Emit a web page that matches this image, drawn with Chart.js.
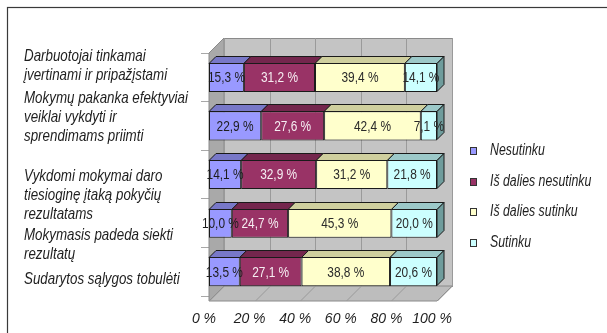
<!DOCTYPE html>
<html>
<head>
<meta charset="utf-8">
<style>
  html, body { margin: 0; padding: 0; background: #fff; overflow: hidden; }
  #wrap { width: 607px; height: 333px; position: relative; }
</style>
<script src="https://cdn.jsdelivr.net/npm/chart.js@4.4.1/dist/chart.umd.min.js"></script>
</head>
<body>
<div id="wrap"><canvas id="c" width="607" height="333"></canvas></div>
<script>
// Survey statements (multi-line category labels)
const categories = [
  ['Darbuotojai tinkamai', 'įvertinami ir pripažįstami'],
  ['Mokymų pakanka efektyviai', 'veiklai vykdyti ir', 'sprendimams priimti'],
  ['Vykdomi mokymai daro', 'tiesioginę įtaką pokyčių', 'rezultatams'],
  ['Mokymasis padeda siekti', 'rezultatų'],
  ['Sudarytos sąlygos tobulėti']
];

// Answer shares, percent
const seriesNames = ['Nesutinku', 'Iš dalies nesutinku', 'Iš dalies sutinku', 'Sutinku'];
const nesutinku         = [15.3, 22.9, 14.1, 10.0, 13.5];
const isDaliesNesutinku = [31.2, 27.6, 32.9, 24.7, 27.1];
const isDaliesSutinku   = [39.4, 42.4, 31.2, 45.3, 38.8];
const sutinku           = [14.1,  7.1, 21.8, 20.0, 20.6];

const xTickValues = [0, 20, 40, 60, 80, 100];

// Styling
const SANS = "'Liberation Sans', Arial, sans-serif";
const frontColors = ['#9999FF', '#993366', '#FFFFCC', '#CCFFFF'];
const topColors   = ['#7878C8', '#74264D', '#CFCF9E', '#9CC9C9'];
const sideColors  = ['#5E5E9C', '#5A1D3B', '#A3A37A', '#6F9C9C'];
const valueColors = ['#1E1E1E', '#F6EEF2', '#2A2A2A', '#2A2A2A'];
// vertical placement of each category text block relative to its row centre
const labelNudge = [-7, -4, 25, 26, 12];
const labelLineStep = 19;

const seriesValues = [nesutinku, isDaliesNesutinku, isDaliesSutinku, sutinku];

const fmt = v => v.toFixed(1).replace('.', ',') + ' %';

// condensed text: regular sans squeezed horizontally
function narrowText(ctx, text, x, y, sx) {
  ctx.save();
  ctx.translate(x, y);
  ctx.scale(sx, 1);
  ctx.fillText(text, 0, 0);
  ctx.restore();
}

// Walls, floor, bar depth faces, value labels, category text, legend and outer frame
const boxes3d = {
  id: 'boxes3d',
  beforeDraw(chart) {
    const ctx = chart.ctx;
    ctx.save();
    ctx.fillStyle = '#fff';
    ctx.fillRect(0, 0, chart.width, chart.height);
    ctx.strokeStyle = '#3a3a3a';
    ctx.lineWidth = 1.2;
    ctx.strokeRect(7.5, 7.5, chart.width + 40, chart.height + 40);
    ctx.restore();
  },
  beforeDatasetsDraw(chart) {
    const { ctx, chartArea: a, scales: { x } } = chart;
    const D = 15;
    const fl = x.getPixelForValue(0), fr = x.getPixelForValue(100);
    const ft = a.top, fb = a.bottom + 5;
    ctx.save();
    ctx.lineWidth = 1;
    ctx.strokeStyle = '#8a8a8a';
    // back wall
    ctx.fillStyle = '#C4C4C4';
    ctx.fillRect(fl + D, ft - D, fr - fl, fb - ft);
    ctx.strokeRect(fl + D + 0.5, ft - D + 0.5, fr - fl, fb - ft);
    // side wall
    ctx.fillStyle = '#A9A9A9';
    ctx.beginPath();
    ctx.moveTo(fl, ft); ctx.lineTo(fl + D, ft - D); ctx.lineTo(fl + D, fb - D); ctx.lineTo(fl, fb);
    ctx.closePath(); ctx.fill(); ctx.stroke();
    // floor
    ctx.fillStyle = '#BDBDBD';
    ctx.beginPath();
    ctx.moveTo(fl, fb); ctx.lineTo(fr, fb); ctx.lineTo(fr + D, fb - D); ctx.lineTo(fl + D, fb - D);
    ctx.closePath(); ctx.fill(); ctx.stroke();
    // grid lines on back wall and floor
    ctx.strokeStyle = '#9a9a9a';
    xTickValues.forEach(v => {
      const px = Math.round(x.getPixelForValue(v)) + 0.5;
      ctx.beginPath();
      ctx.moveTo(px + D, ft - D); ctx.lineTo(px + D, fb - D); ctx.lineTo(px, fb);
      ctx.stroke();
    });
    ctx.restore();
  },
  afterDatasetsDraw(chart) {
    const ctx = chart.ctx;
    const d = 7;
    const last = chart.data.datasets.length - 1;
    ctx.save();
    ctx.lineWidth = 1;
    ctx.strokeStyle = '#1a1a1a';
    chart.data.datasets.forEach((ds, di) => {
      chart.getDatasetMeta(di).data.forEach(bar => {
        const { x: xe, base: xs, y, height: h } = bar.getProps(['x', 'base', 'y', 'height'], true);
        const top = Math.round(y - h / 2) + 0.5, bot = Math.round(y + h / 2) - 0.5;
        ctx.fillStyle = topColors[di];
        ctx.beginPath();
        ctx.moveTo(xs, top); ctx.lineTo(xe, top); ctx.lineTo(xe + d, top - d); ctx.lineTo(xs + d, top - d);
        ctx.closePath(); ctx.fill(); ctx.stroke();
        if (di === last) {
          ctx.fillStyle = sideColors[di];
          ctx.beginPath();
          ctx.moveTo(xe, top); ctx.lineTo(xe + d, top - d); ctx.lineTo(xe + d, bot - d); ctx.lineTo(xe, bot);
          ctx.closePath(); ctx.fill(); ctx.stroke();
        }
      });
    });
    // value labels
    ctx.font = "14px " + SANS;
    ctx.textAlign = 'center';
    ctx.textBaseline = 'middle';
    chart.data.datasets.forEach((ds, di) => {
      chart.getDatasetMeta(di).data.forEach((bar, i) => {
        const { x: xe, base: xs, y } = bar.getProps(['x', 'base', 'y'], true);
        ctx.fillStyle = valueColors[di];
        narrowText(ctx, fmt(ds.data[i]), (xs + xe) / 2, y + 1, 0.85);
      });
    });
    ctx.restore();
  },
  afterDraw(chart) {
    const { ctx, chartArea: a, scales: { y } } = chart;
    ctx.save();
    // category text blocks
    ctx.font = "italic 17px " + SANS;
    ctx.textBaseline = 'alphabetic';
    ctx.textAlign = 'left';
    ctx.fillStyle = '#1e1e1e';
    chart.data.labels.forEach((lines, i) => {
      const mid = y.getPixelForValue(i) + labelNudge[i];
      const first = mid - (lines.length - 1) * labelLineStep / 2;
      lines.forEach((t, k) => narrowText(ctx, t, 24, first + k * labelLineStep, 0.785));
    });
    // legend
    const lx = a.right + 33;
    const ly = 151, step = 30.7;
    ctx.font = "italic 16px " + SANS;
    ctx.textBaseline = 'middle';
    chart.data.datasets.forEach((ds, di) => {
      const cy = Math.round(ly + di * step);
      ctx.fillStyle = ds.backgroundColor;
      ctx.fillRect(lx, cy - 4, 7, 8);
      ctx.strokeStyle = '#333';
      ctx.lineWidth = 1;
      ctx.strokeRect(lx + 0.5, cy - 3.5, 6, 7);
      ctx.fillStyle = '#1e1e1e';
      narrowText(ctx, ds.label, lx + 20, cy, 0.77);
    });
    ctx.restore();
  }
};

new Chart(document.getElementById('c'), {
  type: 'bar',
  data: {
    labels: categories,
    datasets: seriesNames.map((name, i) => ({
      label: name,
      data: seriesValues[i],
      backgroundColor: frontColors[i],
      borderColor: '#1a1a1a',
      borderWidth: 1,
      borderSkipped: false,
      categoryPercentage: 0.6,
      barPercentage: 1
    }))
  },
  options: {
    indexAxis: 'y',
    responsive: false,
    animation: false,
    devicePixelRatio: 1,
    layout: { padding: { left: 10, top: 53, right: 170, bottom: 0 } },
    plugins: { legend: { display: false }, tooltip: { enabled: false } },
    scales: {
      x: {
        stacked: true,
        min: 0,
        max: 100,
        afterBuildTicks: s => { s.ticks = xTickValues.map(v => ({ value: v })); },
        ticks: {
          padding: 7,
          maxRotation: 0,
          autoSkip: false,
          labelOffset: -5,
          color: '#1e1e1e',
          font: { family: SANS, size: 14, style: 'italic' },
          callback: v => v + ' %'
        },
        grid: { display: false },
        border: { display: false },
        afterFit: s => { s.height = 37; }
      },
      y: {
        stacked: true,
        ticks: { display: false, autoSkip: false },
        grid: { drawOnChartArea: false, color: '#a8a8a8', tickLength: 8, offset: true },
        border: { display: false },
        afterFit: s => { s.width = 199; }
      }
    }
  },
  plugins: [boxes3d]
});
</script>
</body>
</html>
